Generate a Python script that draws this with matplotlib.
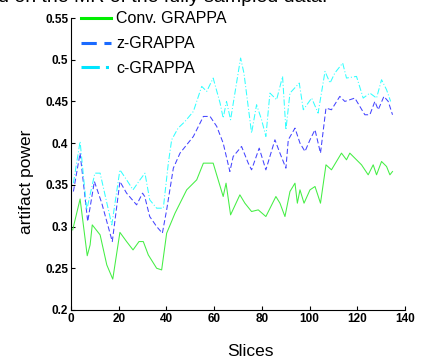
import matplotlib.pyplot as plt

# slice positions / values
conv_x = [0.7, 3.8, 6.8, 8, 8.9, 12.2, 15, 17.5, 20.5, 23.3, 26, 28.5, 30.3, 32.4,
          35.9, 38, 40.1, 43.6, 48.5, 52.7, 55.5, 59.6, 63.8, 65, 66.9, 70.8, 72.9,
          75.7, 78.5, 81.7, 85.9, 87.6, 89.7, 91.8, 93.9, 94.9, 96, 97.7, 100.2,
          102.3, 104.6, 106.9, 109.2, 113.4, 115.5, 116.9, 119.7, 121.8, 124.6,
          126.7, 128.1, 130.2, 132.3, 133.7, 134.8]
conv_y = [0.296, 0.333, 0.265, 0.278, 0.302, 0.290, 0.254, 0.237, 0.293, 0.282,
          0.272, 0.282, 0.282, 0.266, 0.250, 0.248, 0.292, 0.316, 0.344, 0.356,
          0.376, 0.376, 0.336, 0.352, 0.314, 0.338, 0.328, 0.318, 0.320, 0.312,
          0.336, 0.328, 0.312, 0.342, 0.352, 0.328, 0.344, 0.328, 0.344, 0.348,
          0.328, 0.374, 0.368, 0.388, 0.380, 0.388, 0.380, 0.374, 0.362, 0.374,
          0.362, 0.378, 0.372, 0.362, 0.366]

zg_x = [1, 3.8, 7, 9.8, 12.9, 17.3, 20.5, 23.3, 27.5, 30, 30.9, 33, 35.9, 38.3,
        40.1, 42.9, 45.7, 51.3, 55.5, 58.3, 61.1, 63.8, 66.6, 68, 71.5, 74.3,
        75.7, 78.9, 81.7, 85.5, 87.6, 90.1, 91.1, 93.9, 96, 98.1, 100.2, 102.3,
        104.6, 106.9, 109.2, 112.7, 114.8, 116.9, 119, 121.1, 123.2, 125.3,
        127.4, 128.8, 131.2, 133, 134.8]
zg_y = [0.342, 0.388, 0.306, 0.354, 0.328, 0.282, 0.354, 0.340, 0.326, 0.340,
        0.336, 0.312, 0.300, 0.292, 0.320, 0.370, 0.388, 0.408, 0.432, 0.432,
        0.420, 0.400, 0.366, 0.384, 0.396, 0.376, 0.368, 0.394, 0.368, 0.404,
        0.388, 0.370, 0.404, 0.418, 0.400, 0.390, 0.404, 0.416, 0.388, 0.442,
        0.440, 0.456, 0.450, 0.452, 0.454, 0.444, 0.434, 0.434, 0.450, 0.440,
        0.456, 0.450, 0.434]

cg_x = [1, 3.8, 6.6, 10, 12.2, 17.1, 20.5, 23.3, 26, 28.9, 31, 33, 35.9, 38.7,
        40.8, 42.2, 44.9, 47.8, 51.3, 54.8, 56.9, 59.6, 62.5, 63.8, 65.2, 66.9,
        71.1, 72.5, 75.7, 77.8, 79.9, 81.7, 83.4, 86.2, 88.7, 90.1, 91.8, 95.7,
        97.4, 100.9, 103.6, 106.5, 108.6, 110.6, 113.9, 115.5, 119.7, 122.5,
        125.3, 128.1, 130.2, 132.3, 134]
cg_y = [0.352, 0.402, 0.320, 0.364, 0.364, 0.302, 0.368, 0.356, 0.344, 0.356,
        0.364, 0.332, 0.322, 0.322, 0.376, 0.404, 0.418, 0.426, 0.438, 0.468,
        0.462, 0.478, 0.448, 0.430, 0.450, 0.428, 0.502, 0.484, 0.412, 0.446,
        0.428, 0.408, 0.460, 0.452, 0.480, 0.416, 0.460, 0.472, 0.440, 0.454,
        0.436, 0.486, 0.472, 0.484, 0.496, 0.478, 0.480, 0.454, 0.460, 0.454,
        0.476, 0.464, 0.450]

x_ticks = [0, 20, 40, 60, 80, 100, 120, 140]
y_ticks = [0.2, 0.25, 0.3, 0.35, 0.4, 0.45, 0.5, 0.55]
y_tick_labels = ["0.2", "0.25", "0.3", "0.35", "0.4", "0.45", "0.5", "0.55"]

plt.rcParams["font.family"] = ["Liberation Sans", "DejaVu Sans"]

fig = plt.figure(figsize=(4.24, 3.6), dpi=100)
ax = fig.add_axes([0.1675, 0.139, 0.7875, 0.811])

ax.plot(conv_x, conv_y, color="#44ee44", lw=0.75, label="Conv. GRAPPA")
ax.plot(zg_x, zg_y, color="#4444ff", lw=0.75, ls=(0, (5, 2.5)), label="z-GRAPPA")
ax.plot(cg_x, cg_y, color="#33ffff", lw=0.75, ls=(0, (6, 2, 1, 2)), label="c-GRAPPA")

ax.set_xlim(0, 140)
ax.set_ylim(0.2, 0.55)
ax.set_xticks(x_ticks)
ax.set_yticks(y_ticks)
ax.set_yticklabels(y_tick_labels)
ax.tick_params(direction="in", length=3, width=0.8, labelsize=8.5, pad=2)
for lbl in ax.get_xticklabels() + ax.get_yticklabels():
    lbl.set_fontweight("bold")
ax.spines["top"].set_visible(False)
ax.spines["right"].set_visible(False)
for s in ("left", "bottom"):
    ax.spines[s].set_linewidth(0.8)

ax.set_xlabel("Slices", fontsize=12.5)
ax.xaxis.set_label_coords(0.536, -0.115)
ax.set_ylabel("artifact power", fontsize=12.5)
ax.yaxis.set_label_coords(-0.11, 0.44)

leg = ax.legend(loc="upper left", bbox_to_anchor=(0.01, 1.045), frameon=False,
                fontsize=11.5, handlelength=1.9, handletextpad=0.3,
                labelspacing=0.62, borderaxespad=0)
leg_colors = ["#00ee00", "#1a6aff", "#00e5ff"]
for line, c in zip(leg.get_lines(), leg_colors):
    line.set_linewidth(2.2)
    line.set_color(c)

# caption fragment cut off at the top of the original scan
fig.text(-0.005, 0.994, "d on the MR of the fully sampled data.", fontsize=14,
         ha="left", va="baseline")

fig.savefig("out.png", dpi=100, facecolor="white")
